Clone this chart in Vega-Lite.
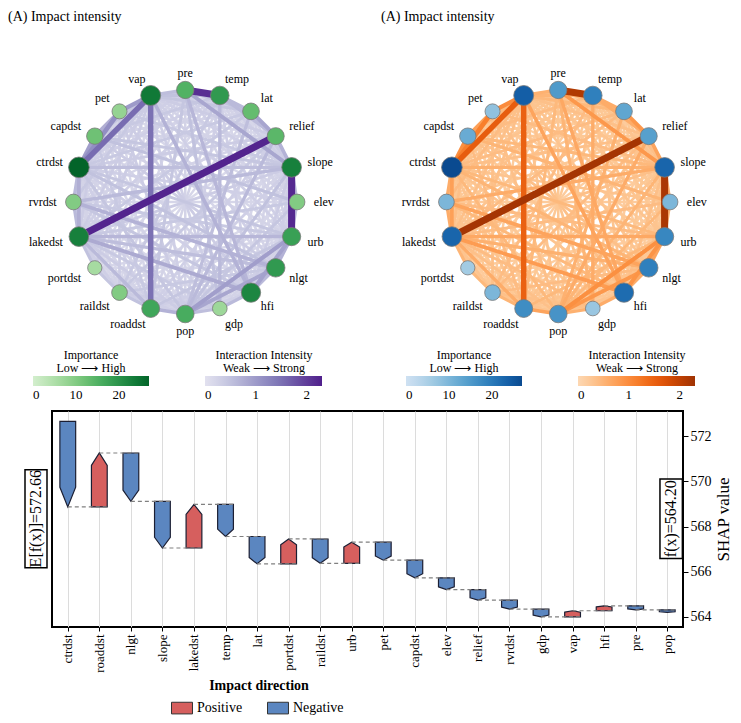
{
"$schema": "https://vega.github.io/schema/vega-lite/v6.json",
"padding": {"left": 8, "top": 10, "right": 5, "bottom": 5},
"bounds": "full",
"spacing": 8,
"config": {
 "font": "Liberation Serif",
 "view": {"stroke": null},
 "axis": {"labelFont": "Liberation Serif", "titleFont": "Liberation Serif", "labelColor": "black", "titleColor": "black", "titleFontWeight": "normal"},
 "legend": {"labelFont": "Liberation Serif", "titleFont": "Liberation Serif", "labelColor": "black", "titleColor": "black", "titleFontWeight": "normal", "titleFontSize": 12, "labelFontSize": 13},
 "title": {"font": "Liberation Serif", "fontWeight": "normal", "color": "black"},
 "text": {"font": "Liberation Serif"}
},
"datasets": {
 "nodes": [
  {"id":"pre","k":0,"imp":15},{"id":"temp","k":1,"imp":19},{"id":"lat","k":2,"imp":13},{"id":"relief","k":3,"imp":14},
  {"id":"slope","k":4,"imp":23},{"id":"elev","k":5,"imp":10},{"id":"urb","k":6,"imp":18},{"id":"nlgt","k":7,"imp":19},
  {"id":"hfi","k":8,"imp":22},{"id":"gdp","k":9,"imp":7},{"id":"pop","k":10,"imp":16},{"id":"roaddst","k":11,"imp":17},
  {"id":"raildst","k":12,"imp":10},{"id":"portdst","k":13,"imp":6},{"id":"lakedst","k":14,"imp":23},{"id":"rvrdst","k":15,"imp":10},
  {"id":"ctrdst","k":16,"imp":27},{"id":"capdst","k":17,"imp":12},{"id":"pet","k":18,"imp":8},{"id":"vap","k":19,"imp":24}
 ],
 "edges": [
  {"s":"lat","t":"portdst","w":0.15},{"s":"relief","t":"portdst","w":0.15},{"s":"elev","t":"gdp","w":0.15},{"s":"elev","t":"raildst","w":0.15},{"s":"elev","t":"pet","w":0.15},{"s":"hfi","t":"portdst","w":0.15},{"s":"gdp","t":"portdst","w":0.15},{"s":"gdp","t":"capdst","w":0.15},{"s":"gdp","t":"pet","w":0.15},{"s":"portdst","t":"capdst","w":0.15},{"s":"portdst","t":"pet","w":0.15},
  {"s":"pre","t":"raildst","w":0.2},{"s":"pre","t":"portdst","w":0.2},{"s":"temp","t":"nlgt","w":0.2},{"s":"temp","t":"portdst","w":0.2},{"s":"temp","t":"rvrdst","w":0.2},{"s":"temp","t":"pet","w":0.2},{"s":"lat","t":"nlgt","w":0.2},{"s":"lat","t":"hfi","w":0.2},{"s":"lat","t":"gdp","w":0.2},{"s":"lat","t":"raildst","w":0.2},{"s":"lat","t":"rvrdst","w":0.2},{"s":"lat","t":"pet","w":0.2},{"s":"relief","t":"nlgt","w":0.2},{"s":"relief","t":"gdp","w":0.2},{"s":"relief","t":"pet","w":0.2},{"s":"slope","t":"gdp","w":0.2},{"s":"slope","t":"portdst","w":0.2},{"s":"elev","t":"nlgt","w":0.2},{"s":"elev","t":"hfi","w":0.2},{"s":"elev","t":"roaddst","w":0.2},{"s":"elev","t":"rvrdst","w":0.2},{"s":"urb","t":"raildst","w":0.2},{"s":"urb","t":"portdst","w":0.2},{"s":"urb","t":"pet","w":0.2},{"s":"nlgt","t":"portdst","w":0.2},{"s":"nlgt","t":"pet","w":0.2},{"s":"hfi","t":"raildst","w":0.2},{"s":"gdp","t":"rvrdst","w":0.2},{"s":"pop","t":"portdst","w":0.2},{"s":"pop","t":"capdst","w":0.2},{"s":"roaddst","t":"pet","w":0.2},{"s":"raildst","t":"rvrdst","w":0.2},{"s":"raildst","t":"capdst","w":0.2},{"s":"raildst","t":"vap","w":0.2},
  {"s":"pre","t":"elev","w":0.25},{"s":"pre","t":"nlgt","w":0.25},{"s":"pre","t":"pop","w":0.25},{"s":"pre","t":"rvrdst","w":0.25},{"s":"pre","t":"capdst","w":0.25},{"s":"temp","t":"elev","w":0.25},{"s":"temp","t":"urb","w":0.25},{"s":"temp","t":"roaddst","w":0.25},{"s":"lat","t":"elev","w":0.25},{"s":"lat","t":"urb","w":0.25},{"s":"lat","t":"roaddst","w":0.25},{"s":"lat","t":"capdst","w":0.25},{"s":"relief","t":"urb","w":0.25},{"s":"relief","t":"hfi","w":0.25},{"s":"relief","t":"rvrdst","w":0.25},{"s":"relief","t":"capdst","w":0.25},{"s":"slope","t":"raildst","w":0.25},{"s":"elev","t":"vap","w":0.25},{"s":"urb","t":"gdp","w":0.25},{"s":"urb","t":"capdst","w":0.25},{"s":"nlgt","t":"gdp","w":0.25},{"s":"hfi","t":"roaddst","w":0.25},{"s":"hfi","t":"capdst","w":0.25},{"s":"gdp","t":"roaddst","w":0.25},{"s":"gdp","t":"ctrdst","w":0.25},{"s":"pop","t":"rvrdst","w":0.25},{"s":"roaddst","t":"portdst","w":0.25},{"s":"roaddst","t":"rvrdst","w":0.25},{"s":"raildst","t":"ctrdst","w":0.25},{"s":"portdst","t":"ctrdst","w":0.25},{"s":"lakedst","t":"pet","w":0.25},{"s":"rvrdst","t":"pet","w":0.25},
  {"s":"pre","t":"urb","w":0.3},{"s":"pre","t":"lakedst","w":0.3},{"s":"pre","t":"ctrdst","w":0.3},{"s":"temp","t":"slope","w":0.3},{"s":"temp","t":"hfi","w":0.3},{"s":"temp","t":"pop","w":0.3},{"s":"temp","t":"lakedst","w":0.3},{"s":"temp","t":"ctrdst","w":0.3},{"s":"relief","t":"elev","w":0.3},{"s":"relief","t":"roaddst","w":0.3},{"s":"slope","t":"nlgt","w":0.3},{"s":"slope","t":"roaddst","w":0.3},{"s":"slope","t":"vap","w":0.3},{"s":"elev","t":"ctrdst","w":0.3},{"s":"urb","t":"vap","w":0.3},{"s":"nlgt","t":"roaddst","w":0.3},{"s":"nlgt","t":"vap","w":0.3},{"s":"hfi","t":"pop","w":0.3},{"s":"hfi","t":"ctrdst","w":0.3},{"s":"gdp","t":"vap","w":0.3},{"s":"pop","t":"raildst","w":0.3},{"s":"pop","t":"vap","w":0.3},{"s":"roaddst","t":"ctrdst","w":0.3},{"s":"raildst","t":"lakedst","w":0.3},{"s":"portdst","t":"rvrdst","w":0.3},
  {"s":"lat","t":"slope","w":0.35},{"s":"relief","t":"ctrdst","w":0.35},{"s":"slope","t":"hfi","w":0.35},{"s":"slope","t":"lakedst","w":0.35},{"s":"pop","t":"lakedst","w":0.35},{"s":"lakedst","t":"capdst","w":0.35},{"s":"lakedst","t":"vap","w":0.35},{"s":"rvrdst","t":"capdst","w":0.35},{"s":"raildst","t":"pet","w":0.35},{"s":"portdst","t":"vap","w":0.35},{"s":"relief","t":"vap","w":0.35},{"s":"gdp","t":"raildst","w":0.35},{"s":"hfi","t":"pet","w":0.35},{"s":"nlgt","t":"capdst","w":0.35},{"s":"pop","t":"pet","w":0.35},
  {"s":"pet","t":"slope","w":0.4},{"s":"temp","t":"raildst","w":0.4},{"s":"lat","t":"lakedst","w":0.4},{"s":"relief","t":"raildst","w":0.4},{"s":"nlgt","t":"raildst","w":0.4},{"s":"gdp","t":"lakedst","w":0.4},{"s":"roaddst","t":"capdst","w":0.4},{"s":"rvrdst","t":"vap","w":0.4},{"s":"pet","t":"pre","w":0.4},{"s":"capdst","t":"temp","w":0.4},{"s":"lat","t":"ctrdst","w":0.4},{"s":"elev","t":"lakedst","w":0.4},{"s":"urb","t":"rvrdst","w":0.4},
  {"s":"ctrdst","t":"urb","w":0.45},{"s":"capdst","t":"slope","w":0.45},{"s":"vap","t":"lat","w":0.45},{"s":"pre","t":"roaddst","w":0.45},{"s":"elev","t":"pop","w":0.45},{"s":"urb","t":"roaddst","w":0.45},{"s":"hfi","t":"rvrdst","w":0.45},{"s":"pop","t":"ctrdst","w":0.45},{"s":"portdst","t":"raildst","w":0.45},{"s":"capdst","t":"vap","w":0.45},
  {"s":"pre","t":"gdp","w":0.5},{"s":"capdst","t":"elev","w":0.5},{"s":"elev","t":"urb","w":0.5},{"s":"raildst","t":"roaddst","w":0.5},{"s":"lakedst","t":"portdst","w":0.5},{"s":"pre","t":"lat","w":0.5},{"s":"vap","t":"temp","w":0.5},{"s":"ctrdst","t":"nlgt","w":0.5},{"s":"slope","t":"pop","w":0.5},
  {"s":"ctrdst","t":"slope","w":0.55},{"s":"lat","t":"pop","w":0.55},{"s":"vap","t":"pre","w":0.55},{"s":"pop","t":"gdp","w":0.55},{"s":"slope","t":"elev","w":0.55},{"s":"lakedst","t":"nlgt","w":0.55},
  {"s":"rvrdst","t":"lakedst","w":0.6},{"s":"temp","t":"gdp","w":0.6},{"s":"rvrdst","t":"slope","w":0.6},{"s":"relief","t":"pop","w":0.6},{"s":"temp","t":"lat","w":0.6},{"s":"lakedst","t":"roaddst","w":0.6},{"s":"hfi","t":"gdp","w":0.6},{"s":"nlgt","t":"hfi","w":0.6},{"s":"ctrdst","t":"rvrdst","w":0.6},{"s":"temp","t":"relief","w":0.6},
  {"s":"pre","t":"hfi","w":0.65},{"s":"lakedst","t":"urb","w":0.65},
  {"s":"relief","t":"slope","w":0.7},{"s":"rvrdst","t":"nlgt","w":0.7},{"s":"vap","t":"hfi","w":0.7},{"s":"roaddst","t":"pop","w":0.7},{"s":"urb","t":"nlgt","w":0.7},
  {"s":"ctrdst","t":"lakedst","w":0.75},{"s":"capdst","t":"pet","w":0.75},
  {"s":"lakedst","t":"hfi","w":0.8},
  {"s":"nlgt","t":"pop","w":0.85},{"s":"pre","t":"slope","w":0.85},{"s":"lat","t":"relief","w":0.85},
  {"s":"urb","t":"hfi","w":0.9},
  {"s":"capdst","t":"ctrdst","w":0.95},{"s":"urb","t":"pop","w":0.95},
  {"s":"vap","t":"pet","w":1.0},
  {"s":"pet","t":"ctrdst","w":1.15},
  {"s":"vap","t":"roaddst","w":1.5},
  {"s":"vap","t":"ctrdst","w":1.55},
  {"s":"pre","t":"temp","w":2.15},
  {"s":"slope","t":"urb","w":2.2},
  {"s":"relief","t":"lakedst","w":2.25}
 ],
 "shap": [
  {"feature":"ctrdst","start":572.66,"end":568.87,"dir":"Negative"},
  {"feature":"roaddst","start":568.87,"end":571.26,"dir":"Positive"},
  {"feature":"nlgt","start":571.26,"end":569.12,"dir":"Negative"},
  {"feature":"slope","start":569.12,"end":567.05,"dir":"Negative"},
  {"feature":"lakedst","start":567.05,"end":568.98,"dir":"Positive"},
  {"feature":"temp","start":568.98,"end":567.56,"dir":"Negative"},
  {"feature":"lat","start":567.56,"end":566.35,"dir":"Negative"},
  {"feature":"portdst","start":566.35,"end":567.45,"dir":"Positive"},
  {"feature":"raildst","start":567.45,"end":566.37,"dir":"Negative"},
  {"feature":"urb","start":566.37,"end":567.31,"dir":"Positive"},
  {"feature":"pet","start":567.31,"end":566.51,"dir":"Negative"},
  {"feature":"capdst","start":566.51,"end":565.73,"dir":"Negative"},
  {"feature":"elev","start":565.73,"end":565.21,"dir":"Negative"},
  {"feature":"relief","start":565.21,"end":564.74,"dir":"Negative"},
  {"feature":"rvrdst","start":564.74,"end":564.34,"dir":"Negative"},
  {"feature":"gdp","start":564.34,"end":564.0,"dir":"Negative"},
  {"feature":"vap","start":564.0,"end":564.27,"dir":"Positive"},
  {"feature":"hfi","start":564.27,"end":564.49,"dir":"Positive"},
  {"feature":"pre","start":564.49,"end":564.31,"dir":"Negative"},
  {"feature":"pop","start":564.31,"end":564.2,"dir":"Negative"}
 ]
},
"resolve": {"scale": {"color": "independent"}},
"vconcat": [
 {
  "bounds": "flush",
  "spacing": 43,
  "resolve": {"scale": {"color": "independent"}},
  "hconcat": [
   {
    "width": 330, "height": 365,
    "title": {"text": "(A) Impact intensity", "anchor": "start", "fontSize": 14, "dx": -17, "offset": 13},
    "layer": [
     {
      "data": {"name": "edges"},
      "transform": [
       {"lookup": "s", "from": {"data": {"name": "nodes"}, "key": "id", "fields": ["k"]}, "as": ["ks"]},
       {"lookup": "t", "from": {"data": {"name": "nodes"}, "key": "id", "fields": ["k"]}, "as": ["kt"]},
       {"calculate": "cos((90 - 18*datum.ks)*PI/180)", "as": "ex1"},
       {"calculate": "sin((90 - 18*datum.ks)*PI/180)", "as": "ey1"},
       {"calculate": "cos((90 - 18*datum.kt)*PI/180)", "as": "ex2"},
       {"calculate": "sin((90 - 18*datum.kt)*PI/180)", "as": "ey2"},
       {"calculate": "2 + 2.3*datum.w", "as": "sw"}
      ],
      "mark": {"type": "rule", "opacity": 1, "strokeCap": "butt"},
      "encoding": {
       "x": {"field": "ex1", "type": "quantitative", "scale": {"domain": [-1.433, 1.518], "nice": false, "zero": false}, "axis": null},
       "y": {"field": "ey1", "type": "quantitative", "scale": {"domain": [-1.786, 1.473], "nice": false, "zero": false}, "axis": null},
       "x2": {"field": "ex2"},
       "y2": {"field": "ey2"},
       "color": {"field": "w", "type": "quantitative", "scale": {"scheme": "purples", "domain": [0, 2.3]},
        "legend": {"type": "gradient", "orient": "none", "legendX": 180, "legendY": 313, "direction": "horizontal", "title": ["Interaction Intensity", "Weak ⟶ Strong"], "titleLineHeight": 13, "titlePadding": 1, "labelOffset": 3, "gradientLength": 117, "gradientThickness": 10, "values": [0, 1, 2], "titleAnchor": "middle", "titleAlign": "center", "labelAlign": "center"}},
       "strokeWidth": {"field": "sw", "type": "quantitative", "scale": null},
       "order": {"field": "w", "type": "quantitative"}
      }
     },
     {
      "data": {"name": "nodes"},
      "transform": [
       {"calculate": "cos((90 - 18*datum.k)*PI/180)", "as": "nx"},
       {"calculate": "sin((90 - 18*datum.k)*PI/180)", "as": "ny"},
       {"calculate": "140 + 10.7*datum.imp", "as": "sz"}
      ],
      "mark": {"type": "circle", "stroke": "#7a7a7a", "strokeWidth": 0.8, "opacity": 1},
      "encoding": {
       "x": {"field": "nx", "type": "quantitative"},
       "y": {"field": "ny", "type": "quantitative"},
       "color": {"field": "imp", "type": "quantitative", "scale": {"scheme": "greens", "domain": [0, 27]},
        "legend": {"type": "gradient", "orient": "none", "legendX": 8, "legendY": 313, "direction": "horizontal", "title": ["Importance", "Low ⟶ High"], "titleLineHeight": 13, "titlePadding": 1, "labelOffset": 3, "gradientLength": 116, "gradientThickness": 10, "values": [0, 10, 20], "titleAnchor": "middle", "titleAlign": "center", "labelAlign": "center"}},
       "size": {"field": "sz", "type": "quantitative", "scale": null}
      }
     },
     {
      "data": {"name": "nodes"},
      "transform": [
       {"calculate": "cos((90 - 18*datum.k)*PI/180)", "as": "nx"},
       {"calculate": "sin((90 - 18*datum.k)*PI/180)", "as": "ny"},
       {"filter": "datum.nx > 0.1"},
       {"calculate": "1.15*datum.nx", "as": "lx"},
       {"calculate": "1.15*datum.ny", "as": "ly"}
      ],
      "mark": {"type": "text", "align": "left", "baseline": "middle", "fontSize": 12},
      "encoding": {"x": {"field": "lx", "type": "quantitative"}, "y": {"field": "ly", "type": "quantitative"}, "text": {"field": "id"}}
     },
     {
      "data": {"name": "nodes"},
      "transform": [
       {"calculate": "cos((90 - 18*datum.k)*PI/180)", "as": "nx"},
       {"calculate": "sin((90 - 18*datum.k)*PI/180)", "as": "ny"},
       {"filter": "datum.nx < -0.1"},
       {"calculate": "1.15*datum.nx", "as": "lx"},
       {"calculate": "1.15*datum.ny", "as": "ly"}
      ],
      "mark": {"type": "text", "align": "right", "baseline": "middle", "fontSize": 12},
      "encoding": {"x": {"field": "lx", "type": "quantitative"}, "y": {"field": "ly", "type": "quantitative"}, "text": {"field": "id"}}
     },
     {
      "data": {"name": "nodes"},
      "transform": [
       {"calculate": "cos((90 - 18*datum.k)*PI/180)", "as": "nx"},
       {"calculate": "sin((90 - 18*datum.k)*PI/180)", "as": "ny"},
       {"filter": "abs(datum.nx) <= 0.1"},
       {"calculate": "1.15*datum.nx", "as": "lx"},
       {"calculate": "1.15*datum.ny", "as": "ly"}
      ],
      "mark": {"type": "text", "align": "center", "baseline": "middle", "fontSize": 12},
      "encoding": {"x": {"field": "lx", "type": "quantitative"}, "y": {"field": "ly", "type": "quantitative"}, "text": {"field": "id"}}
     }
    ],
    "resolve": {"scale": {"color": "independent"}}
   },
   {
    "width": 330, "height": 365,
    "title": {"text": "(A) Impact intensity", "anchor": "start", "fontSize": 14, "dx": -17, "offset": 13},
    "layer": [
     {
      "data": {"name": "edges"},
      "transform": [
       {"lookup": "s", "from": {"data": {"name": "nodes"}, "key": "id", "fields": ["k"]}, "as": ["ks"]},
       {"lookup": "t", "from": {"data": {"name": "nodes"}, "key": "id", "fields": ["k"]}, "as": ["kt"]},
       {"calculate": "cos((90 - 18*datum.ks)*PI/180)", "as": "ex1"},
       {"calculate": "sin((90 - 18*datum.ks)*PI/180)", "as": "ey1"},
       {"calculate": "cos((90 - 18*datum.kt)*PI/180)", "as": "ex2"},
       {"calculate": "sin((90 - 18*datum.kt)*PI/180)", "as": "ey2"},
       {"calculate": "2 + 2.3*datum.w", "as": "sw"}
      ],
      "mark": {"type": "rule", "opacity": 1, "strokeCap": "butt"},
      "encoding": {
       "x": {"field": "ex1", "type": "quantitative", "scale": {"domain": [-1.433, 1.518], "nice": false, "zero": false}, "axis": null},
       "y": {"field": "ey1", "type": "quantitative", "scale": {"domain": [-1.786, 1.473], "nice": false, "zero": false}, "axis": null},
       "x2": {"field": "ex2"},
       "y2": {"field": "ey2"},
       "color": {"field": "w", "type": "quantitative", "scale": {"scheme": "oranges", "domain": [0, 2.3]},
        "legend": {"type": "gradient", "orient": "none", "legendX": 180, "legendY": 313, "direction": "horizontal", "title": ["Interaction Intensity", "Weak ⟶ Strong"], "titleLineHeight": 13, "titlePadding": 1, "labelOffset": 3, "gradientLength": 117, "gradientThickness": 10, "values": [0, 1, 2], "titleAnchor": "middle", "titleAlign": "center", "labelAlign": "center"}},
       "strokeWidth": {"field": "sw", "type": "quantitative", "scale": null},
       "order": {"field": "w", "type": "quantitative"}
      }
     },
     {
      "data": {"name": "nodes"},
      "transform": [
       {"calculate": "cos((90 - 18*datum.k)*PI/180)", "as": "nx"},
       {"calculate": "sin((90 - 18*datum.k)*PI/180)", "as": "ny"},
       {"calculate": "140 + 10.7*datum.imp", "as": "sz"}
      ],
      "mark": {"type": "circle", "stroke": "#7a7a7a", "strokeWidth": 0.8, "opacity": 1},
      "encoding": {
       "x": {"field": "nx", "type": "quantitative"},
       "y": {"field": "ny", "type": "quantitative"},
       "color": {"field": "imp", "type": "quantitative", "scale": {"scheme": "blues", "domain": [0, 27]},
        "legend": {"type": "gradient", "orient": "none", "legendX": 8, "legendY": 313, "direction": "horizontal", "title": ["Importance", "Low ⟶ High"], "titleLineHeight": 13, "titlePadding": 1, "labelOffset": 3, "gradientLength": 116, "gradientThickness": 10, "values": [0, 10, 20], "titleAnchor": "middle", "titleAlign": "center", "labelAlign": "center"}},
       "size": {"field": "sz", "type": "quantitative", "scale": null}
      }
     },
     {
      "data": {"name": "nodes"},
      "transform": [
       {"calculate": "cos((90 - 18*datum.k)*PI/180)", "as": "nx"},
       {"calculate": "sin((90 - 18*datum.k)*PI/180)", "as": "ny"},
       {"filter": "datum.nx > 0.1"},
       {"calculate": "1.15*datum.nx", "as": "lx"},
       {"calculate": "1.15*datum.ny", "as": "ly"}
      ],
      "mark": {"type": "text", "align": "left", "baseline": "middle", "fontSize": 12},
      "encoding": {"x": {"field": "lx", "type": "quantitative"}, "y": {"field": "ly", "type": "quantitative"}, "text": {"field": "id"}}
     },
     {
      "data": {"name": "nodes"},
      "transform": [
       {"calculate": "cos((90 - 18*datum.k)*PI/180)", "as": "nx"},
       {"calculate": "sin((90 - 18*datum.k)*PI/180)", "as": "ny"},
       {"filter": "datum.nx < -0.1"},
       {"calculate": "1.15*datum.nx", "as": "lx"},
       {"calculate": "1.15*datum.ny", "as": "ly"}
      ],
      "mark": {"type": "text", "align": "right", "baseline": "middle", "fontSize": 12},
      "encoding": {"x": {"field": "lx", "type": "quantitative"}, "y": {"field": "ly", "type": "quantitative"}, "text": {"field": "id"}}
     },
     {
      "data": {"name": "nodes"},
      "transform": [
       {"calculate": "cos((90 - 18*datum.k)*PI/180)", "as": "nx"},
       {"calculate": "sin((90 - 18*datum.k)*PI/180)", "as": "ny"},
       {"filter": "abs(datum.nx) <= 0.1"},
       {"calculate": "1.15*datum.nx", "as": "lx"},
       {"calculate": "1.15*datum.ny", "as": "ly"}
      ],
      "mark": {"type": "text", "align": "center", "baseline": "middle", "fontSize": 12},
      "encoding": {"x": {"field": "lx", "type": "quantitative"}, "y": {"field": "ly", "type": "quantitative"}, "text": {"field": "id"}}
     }
    ],
    "resolve": {"scale": {"color": "independent"}}
   }
  ]
 },
 {
  "bounds": "flush",
  "spacing": 5,
  "hconcat": [
   {
    "width": 22, "height": 216,
    "view": {"stroke": null},
    "data": {"values": [{"label": "E[f(x)]=572.66"}]},
    "layer": [
     {
      "mark": {"type": "rect", "fill": "white", "stroke": "black", "strokeWidth": 1.5},
      "encoding": {
       "y": {"datum": 566.17, "type": "quantitative", "scale": {"domain": [563.55, 573.12], "nice": false, "zero": false},
        "axis": {"orient": "left", "labels": false, "ticks": false, "grid": false, "domain": true, "domainColor": "transparent", "offset": 17, "title": null}},
       "y2": {"datum": 570.52}
      }
     },
     {
      "mark": {"type": "text", "angle": 270, "fontSize": 16, "baseline": "middle", "align": "center"},
      "encoding": {
       "y": {"datum": 568.35, "type": "quantitative"},
       "text": {"field": "label"}
      }
     }
    ]
   },
   {
    "width": 631, "height": 216,
    "view": {"stroke": "black", "strokeWidth": 2},
    "layer": [
     {
      "data": {"name": "shap"},
      "transform": [
       {"window": [{"op": "row_number", "as": "rn"}]},
       {"calculate": "datum.rn - 1", "as": "i"},
       {"calculate": "datum.end - 0.23*(datum.end - datum.start)", "as": "neck"},
       {"calculate": "datum.i - 0.25", "as": "L"},
       {"calculate": "datum.i", "as": "C"},
       {"calculate": "datum.i + 0.25", "as": "R"},
       {"fold": ["L", "C", "R"], "as": ["vk", "xv"]},
       {"calculate": "datum.vk == 'C' ? datum.end : datum.neck", "as": "yt"}
      ],
      "mark": {"type": "area", "stroke": "#1c1f33", "strokeWidth": 1.2, "interpolate": "linear", "strokeJoin": "miter", "opacity": 1},
      "encoding": {
       "x": {"field": "xv", "type": "quantitative", "scale": {"domain": [-0.5, 19.5], "nice": false, "zero": false},
        "axis": {"values": [0,1,2,3,4,5,6,7,8,9,10,11,12,13,14,15,16,17,18,19], "tickCount": 40, "labelExpr": "['ctrdst','roaddst','nlgt','slope','lakedst','temp','lat','portdst','raildst','urb','pet','capdst','elev','relief','rvrdst','gdp','vap','hfi','pre','pop'][datum.value]", "labelAngle": -90, "labelFontSize": 13, "labelOverlap": false, "title": null, "grid": true, "gridColor": "#dcdcdc", "gridWidth": 1, "domain": false, "tickSize": 4, "tickColor": "black", "labelPadding": 3}},
       "y": {"field": "yt", "type": "quantitative", "scale": {"domain": [563.55, 573.12], "nice": false, "zero": false},
        "axis": {"orient": "right", "values": [564, 566, 568, 570, 572], "title": "SHAP value", "titleFontSize": 17, "titleAngle": 270, "titleBaseline": "top", "titleAlign": "center", "labelFontSize": 14, "grid": false, "domain": false, "tickSize": 5, "tickColor": "black", "titlePadding": 4}},
       "y2": {"field": "start"},
       "detail": {"field": "feature"},
       "color": {"field": "dir", "type": "nominal", "scale": {"domain": ["Positive", "Negative"], "range": ["#d65f5e", "#5b86c0"]},
        "legend": {"orient": "none", "legendX": 150, "legendY": 268, "direction": "horizontal", "title": "Impact direction", "titleFontWeight": "bold", "titleFontSize": 14, "titlePadding": 8, "labelFontSize": 14, "titleAnchor": "middle", "titleAlign": "center", "symbolType": "M-1.8,-1H1.8V1H-1.8Z", "symbolSize": 136, "symbolStrokeColor": "#333", "symbolStrokeWidth": 1, "symbolOpacity": 1, "columnPadding": 22, "labelOffset": 8}}
      }
     },
     {
      "data": {"name": "shap"},
      "transform": [
       {"window": [{"op": "row_number", "as": "rn"}]},
       {"calculate": "datum.rn - 1", "as": "i"},
       {"filter": "datum.i < 19"},
       {"calculate": "datum.i + 1.25", "as": "xe"}
      ],
      "mark": {"type": "rule", "color": "#808080", "strokeWidth": 1.2, "strokeDash": [4, 3]},
      "encoding": {
       "x": {"field": "i", "type": "quantitative"},
       "x2": {"field": "xe"},
       "y": {"field": "end", "type": "quantitative"}
      }
     },
     {
      "data": {"values": [{"label": "f(x)=564.20"}]},
      "layer": [
       {
        "mark": {"type": "rect", "fill": "white", "stroke": "black", "strokeWidth": 1.5},
        "encoding": {
         "x": {"datum": 18.77, "type": "quantitative"},
         "x2": {"datum": 19.48},
         "y": {"datum": 566.58, "type": "quantitative"},
         "y2": {"datum": 570.11}
        }
       },
       {
        "mark": {"type": "text", "angle": 270, "fontSize": 16, "baseline": "middle", "align": "center"},
        "encoding": {
         "x": {"datum": 19.13, "type": "quantitative"},
         "y": {"datum": 568.35, "type": "quantitative"},
         "text": {"field": "label"}
        }
       }
      ]
     }
    ]
   }
  ]
 }
]
}
